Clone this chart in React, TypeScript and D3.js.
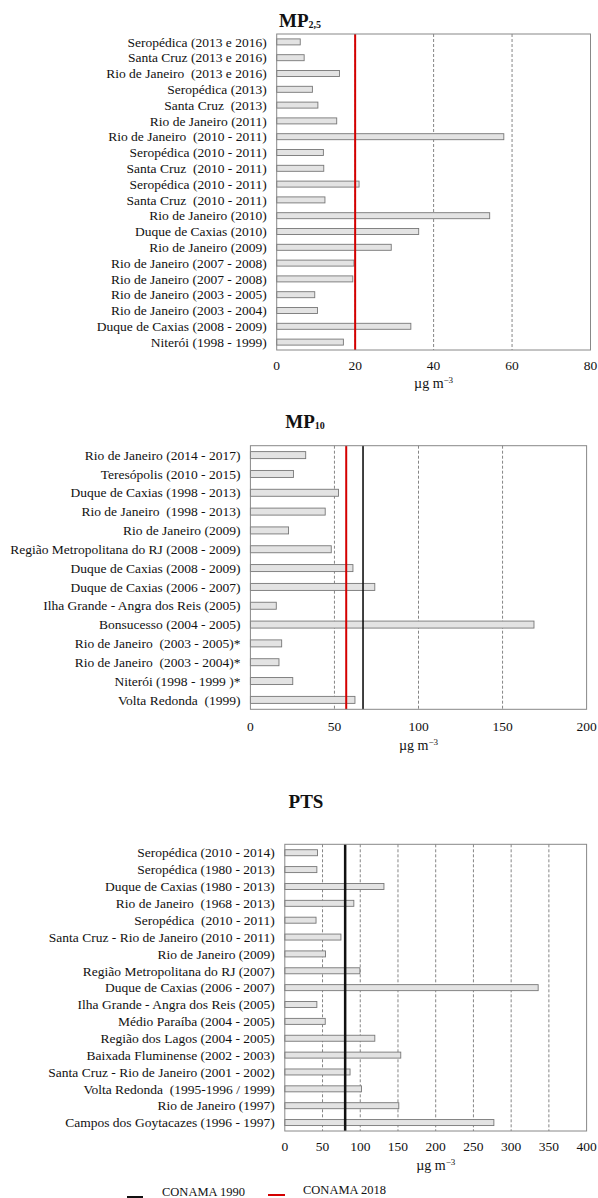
import React from 'react';
import * as d3 from 'd3';

// MP2,5 (fine particulate) annual means
const mp25Labels = [
    'Seropédica (2013 e 2016)',
    'Santa Cruz (2013 e 2016)',
    'Rio de Janeiro  (2013 e 2016)',
    'Seropédica (2013)',
    'Santa Cruz  (2013)',
    'Rio de Janeiro (2011)',
    'Rio de Janeiro  (2010 - 2011)',
    'Seropédica (2010 - 2011)',
    'Santa Cruz  (2010 - 2011)',
    'Seropédica (2010 - 2011)',
    'Santa Cruz  (2010 - 2011)',
    'Rio de Janeiro (2010)',
    'Duque de Caxias (2010)',
    'Rio de Janeiro (2009)',
    'Rio de Janeiro (2007 - 2008)',
    'Rio de Janeiro (2007 - 2008)',
    'Rio de Janeiro (2003 - 2005)',
    'Rio de Janeiro (2003 - 2004)',
    'Duque de Caxias (2008 - 2009)',
    'Niterói (1998 - 1999)',
];
const mp25Values = [6, 7, 16, 9.1, 10.5, 15.3, 57.9, 11.9, 12, 21, 12.3, 54.3, 36.2, 29.2, 19.7, 19.4, 9.7, 10.4, 34.2, 17];
const mp25Ticks = [0, 20, 40, 60, 80];

// MP10
const mp10Labels = [
    'Rio de Janeiro (2014 - 2017)',
    'Teresópolis (2010 - 2015)',
    'Duque de Caxias (1998 - 2013)',
    'Rio de Janeiro  (1998 - 2013)',
    'Rio de Janeiro (2009)',
    'Região Metropolitana do RJ (2008 - 2009)',
    'Duque de Caxias (2008 - 2009)',
    'Duque de Caxias (2006 - 2007)',
    'Ilha Grande - Angra dos Reis (2005)',
    'Bonsucesso (2004 - 2005)',
    'Rio de Janeiro  (2003 - 2005)*',
    'Rio de Janeiro  (2003 - 2004)*',
    'Niterói (1998 - 1999 )*',
    'Volta Redonda  (1999)',
];
const mp10Values = [32.9, 25.6, 52.4, 44.5, 22.7, 48.1, 61, 74, 15.4, 168.7, 18.6, 17, 25.2, 62.2];
const mp10Ticks = [0, 50, 100, 150, 200];

// PTS
const ptsLabels = [
    'Seropédica (2010 - 2014)',
    'Seropédica (1980 - 2013)',
    'Duque de Caxias (1980 - 2013)',
    'Rio de Janeiro  (1968 - 2013)',
    'Seropédica  (2010 - 2011)',
    'Santa Cruz - Rio de Janeiro (2010 - 2011)',
    'Rio de Janeiro (2009)',
    'Região Metropolitana do RJ (2007)',
    'Duque de Caxias (2006 - 2007)',
    'Ilha Grande - Angra dos Reis (2005)',
    'Médio Paraíba (2004 - 2005)',
    'Região dos Lagos (2004 - 2005)',
    'Baixada Fluminense (2002 - 2003)',
    'Santa Cruz - Rio de Janeiro (2001 - 2002)',
    'Volta Redonda  (1995-1996 / 1999)',
    'Rio de Janeiro (1997)',
    'Campos dos Goytacazes (1996 - 1997)',
];
const ptsValues = [43.4, 42.5, 131.4, 91.5, 41.4, 74.4, 54, 99.5, 335.8, 42.5, 53.6, 119.3, 153.7, 86.5, 101.7, 151.1, 277.1];
const ptsTicks = [0, 50, 100, 150, 200, 250, 300, 350, 400];

// CONAMA standards (annual)
const mp25Conama2018 = 20;
const mp10Conama2018 = 57;
const mp10Conama1990 = 67;
const ptsConama1990 = 80;

const legendItems = ['CONAMA 1990', 'CONAMA 2018'];

const FONT = '"Liberation Serif", "Times New Roman", serif';
const RED = '#d40000';

interface ChartProps {
    title: string;
    sub?: string;
    titleX: number;
    titleY: number;
    labels: string[];
    values: number[];
    ticks: number[];
    left: number;
    right: number;
    top: number;
    bottom: number;
    barH: number;
    tickY: number;
    unitY: number;
    red?: number;
    black?: number;
    blackW?: number;
}

function BarChart(p: ChartProps) {
    const x = d3.scaleLinear()
        .domain([p.ticks[0], p.ticks[p.ticks.length - 1]])
        .range([p.left, p.right]);
    // indices as domain: some labels repeat
    const y = d3.scaleBand<number>()
        .domain(d3.range(p.labels.length))
        .range([p.top, p.bottom])
        .padding(0);
    const mid = (p.left + p.right) / 2;

    return (
        <g fontFamily={FONT}>
            <text x={p.titleX} y={p.titleY} textAnchor="middle" fontWeight="bold" fontSize={19} fill="#111">
                {p.title}
                {p.sub && <tspan fontSize={10} dy={1}>{p.sub}</tspan>}
            </text>

            {/* dashed grid */}
            {p.ticks.slice(1, -1).map(t => (
                <line key={t} x1={x(t)} x2={x(t)} y1={p.top} y2={p.bottom}
                    stroke="#666" strokeWidth={0.8} strokeDasharray="3,2" />
            ))}

            {/* bars */}
            {p.values.map((v, i) => {
                const cy = (y(i) as number) + y.bandwidth() / 2;
                return (
                    <g key={i}>
                        <rect x={x(0)} y={cy - p.barH / 2} width={x(v) - x(0)} height={p.barH}
                            fill="#e3e3e3" stroke="#777" strokeWidth={0.9} />
                        <text x={p.left - 10} y={cy} dy="0.35em" textAnchor="end" fontSize={13.5}
                            fill="#111" style={{ whiteSpace: 'pre' }}>
                            {p.labels[i]}
                        </text>
                    </g>
                );
            })}

            {p.red !== undefined && (
                <line x1={x(p.red)} x2={x(p.red)} y1={p.top} y2={p.bottom} stroke={RED} strokeWidth={2} />
            )}
            {p.black !== undefined && (
                <line x1={x(p.black)} x2={x(p.black)} y1={p.top} y2={p.bottom} stroke="#111" strokeWidth={p.blackW ?? 2} />
            )}

            {/* frame */}
            <rect x={p.left} y={p.top} width={p.right - p.left} height={p.bottom - p.top}
                fill="none" stroke="#888" strokeWidth={1} />

            {p.ticks.map(t => (
                <text key={t} x={x(t)} y={p.tickY} textAnchor="middle" fontSize={13.5} fill="#111">{t}</text>
            ))}
            <text x={mid} y={p.unitY} textAnchor="middle" fontSize={14} fill="#111">
                µg m<tspan fontSize={9} dy={-5}>−3</tspan>
            </text>
        </g>
    );
}

export default function App() {
    return (
        <svg width={598} height={1198} style={{ position: 'absolute', left: 0, top: 0, background: '#fff' }}>
            <rect width={598} height={1198} fill="#fff" />
            <BarChart title="MP" sub="2,5" titleX={300} titleY={27}
                labels={mp25Labels} values={mp25Values} ticks={mp25Ticks}
                left={276.7} right={590.5} top={34} bottom={350} barH={6}
                tickY={370} unitY={388} red={mp25Conama2018} />
            <BarChart title="MP" sub="10" titleX={305} titleY={428}
                labels={mp10Labels} values={mp10Values} ticks={mp10Ticks}
                left={250.4} right={586.6} top={445.7} bottom={709.3} barH={7}
                tickY={731} unitY={750} red={mp10Conama2018} black={mp10Conama1990} blackW={1.6} />
            <BarChart title="PTS" titleX={306} titleY={808}
                labels={ptsLabels} values={ptsValues} ticks={ptsTicks}
                left={284.8} right={586.6} top={844.3} bottom={1131} barH={6}
                tickY={1151} unitY={1170} black={ptsConama1990} blackW={2.5} />

            {/* legend */}
            <g fontFamily={FONT} fontSize={12.5} fill="#111">
                <line x1={127} x2={143} y1={1197} y2={1197} stroke="#111" strokeWidth={2} />
                <text x={162} y={1195.5}>{legendItems[0]}</text>
                <line x1={268} x2={285} y1={1195} y2={1195} stroke={RED} strokeWidth={2} />
                <text x={303} y={1193.5}>{legendItems[1]}</text>
            </g>
        </svg>
    );
}
